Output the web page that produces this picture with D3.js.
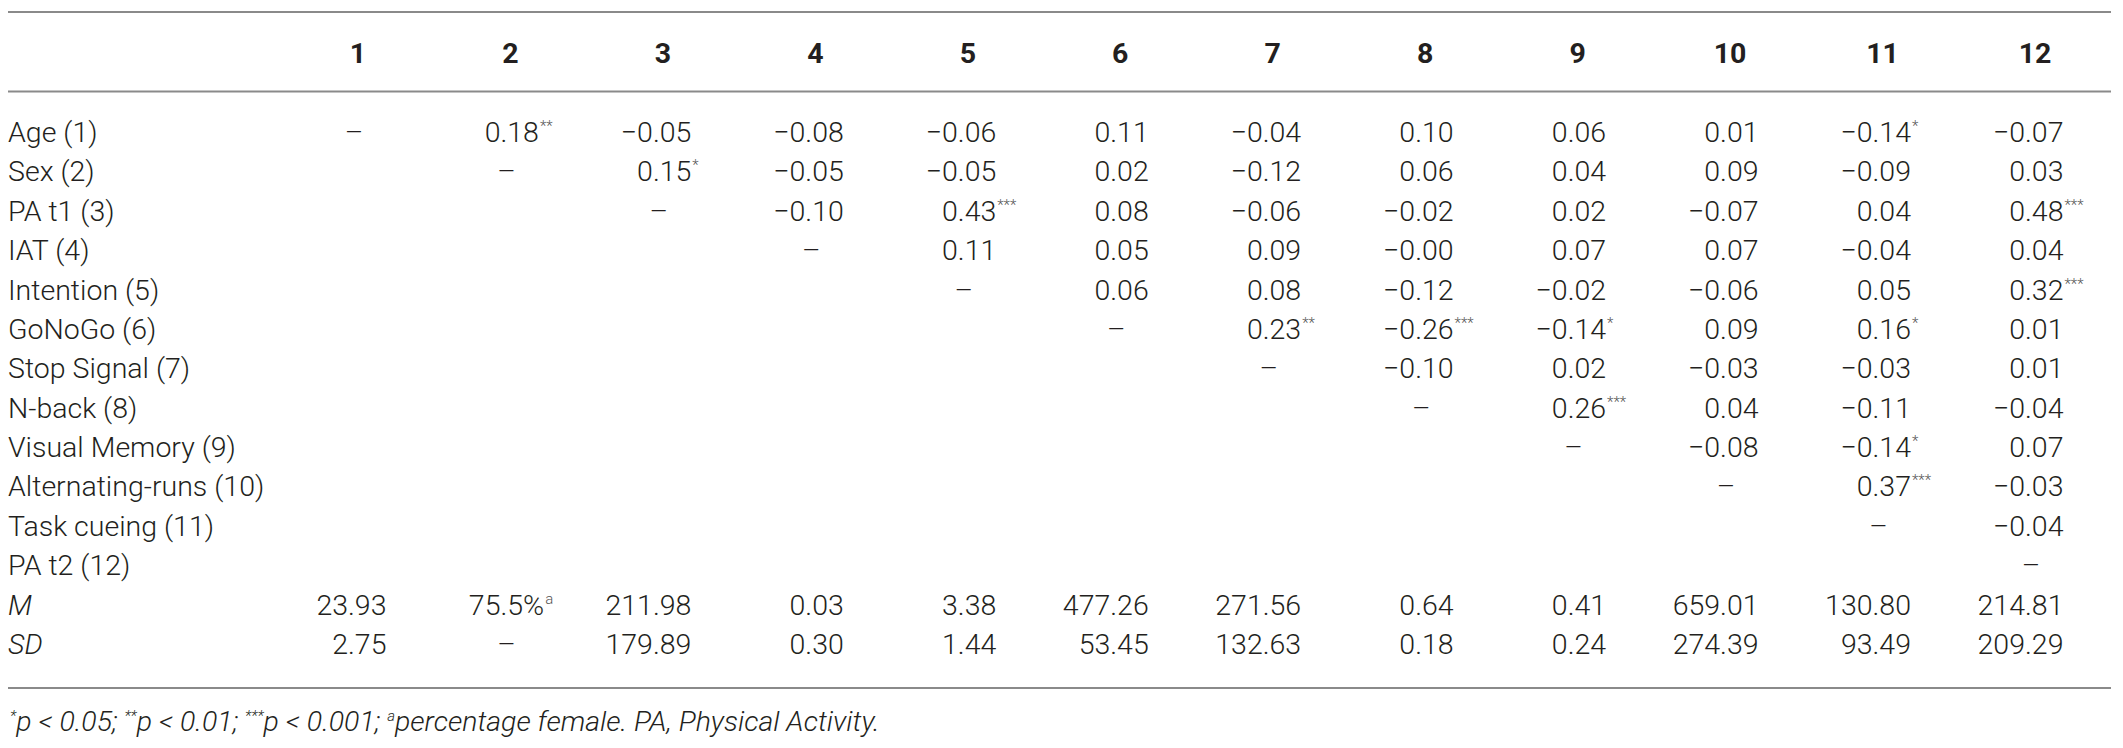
<!DOCTYPE html>
<html>
<head>
<meta charset="utf-8">
<script src="https://cdn.jsdelivr.net/npm/d3@7"></script>
<style>
  html, body { margin: 0; padding: 0; background: #fff; }
  svg { display: block; }
  text { font-family: Roboto, "Liberation Sans", sans-serif; fill: #231f20; }
</style>
</head>
<body>
<svg id="chart" width="2123" height="748"></svg>
<script>
// ---- Data ----
const colLabels = ["1","2","3","4","5","6","7","8","9","10","11","12"];
const rowLabels = ["Age (1)","Sex (2)","PA t1 (3)","IAT (4)","Intention (5)","GoNoGo (6)",
  "Stop Signal (7)","N-back (8)","Visual Memory (9)","Alternating-runs (10)","Task cueing (11)","PA t2 (12)"];
// upper-triangle correlations, row i gives columns i+2 .. 12
const corrAge        = [0.18, -0.05, -0.08, -0.06, 0.11, -0.04, 0.10, 0.06, 0.01, -0.14, -0.07];
const corrSex        = [0.15, -0.05, -0.05, 0.02, -0.12, 0.06, 0.04, 0.09, -0.09, 0.03];
const corrPAt1       = [-0.10, 0.43, 0.08, -0.06, -0.02, 0.02, -0.07, 0.04, 0.48];
const corrIAT        = [0.11, 0.05, 0.09, -0.00, 0.07, 0.07, -0.04, 0.04];
const corrIntention  = [0.06, 0.08, -0.12, -0.02, -0.06, 0.05, 0.32];
const corrGoNoGo     = [0.23, -0.26, -0.14, 0.09, 0.16, 0.01];
const corrStopSignal = [-0.10, 0.02, -0.03, -0.03, 0.01];
const corrNback      = [0.26, 0.04, -0.11, -0.04];
const corrVisualMem  = [-0.08, -0.14, 0.07];
const corrAltRuns    = [0.37, -0.03];
const corrTaskCue    = [-0.04];
const corrPAt2       = [];
// significance stars matching the arrays above
const starsAge        = ["**","","","","","","","","","*",""];
const starsSex        = ["*","","","","","","","","",""];
const starsPAt1       = ["","***","","","","","","","***"];
const starsIAT        = ["","","","","","","",""];
const starsIntention  = ["","","","","","","***"];
const starsGoNoGo     = ["**","***","*","","*",""];
const starsStopSignal = ["","","","",""];
const starsNback      = ["***","","",""];
const starsVisualMem  = ["","*",""];
const starsAltRuns    = ["***",""];
const starsTaskCue    = [""];
const starsPAt2       = [];
const meanValues = ["23.93","75.5%","211.98","0.03","3.38","477.26","271.56","0.64","0.41","659.01","130.80","214.81"];
const meanSup    = ["","a","","","","","","","","","",""];
const sdValues   = ["2.75",null,"179.89","0.30","1.44","53.45","132.63","0.18","0.24","274.39","93.49","209.29"];

const corrRows  = [corrAge,corrSex,corrPAt1,corrIAT,corrIntention,corrGoNoGo,corrStopSignal,corrNback,corrVisualMem,corrAltRuns,corrTaskCue,corrPAt2];
const starRows  = [starsAge,starsSex,starsPAt1,starsIAT,starsIntention,starsGoNoGo,starsStopSignal,starsNback,starsVisualMem,starsAltRuns,starsTaskCue,starsPAt2];

// ---- Layout ----
const svg = d3.select("#chart");
const FS = 28.5;
const x = d3.scaleLinear().domain([1, 12]).range([358, 2035]);     // column centres
const y = d3.scaleLinear().domain([0, 13]).range([142, 654]);      // row baselines
const decOffset = -10; // decimal point position relative to column centre

function fmt(v) {
  const neg = v < 0 || Object.is(v, -0);
  return (neg ? "\u2212" : "") + Math.abs(v).toFixed(2);
}

// rules
const rules = [12, 91.5, 688];
svg.selectAll("line.rule").data(rules).join("line")
  .attr("class", "rule")
  .attr("x1", 8).attr("x2", 2111)
  .attr("y1", d => d).attr("y2", d => d)
  .attr("stroke", "#8a8a8a").attr("stroke-width", 2);

// header
svg.selectAll("text.head").data(colLabels).join("text")
  .attr("class", "head")
  .attr("x", (d, i) => x(i + 1))
  .attr("y", 63)
  .attr("text-anchor", "middle")
  .attr("font-size", FS)
  .attr("font-weight", 700)
  .text(d => d);

// row labels
const allLabels = rowLabels.concat(["M", "SD"]);
svg.selectAll("text.rowlab").data(allLabels).join("text")
  .attr("class", "rowlab")
  .attr("x", 8)
  .attr("y", (d, i) => y(i))
  .attr("font-size", FS)
  .attr("font-weight", 300)
  .attr("font-style", (d, i) => i >= 12 ? "italic" : "normal")
  .text(d => d);

// cells
const cells = [];
corrRows.forEach((row, r) => {
  cells.push({ r, c: r + 1, dash: true });
  row.forEach((v, k) => {
    cells.push({ r, c: r + 2 + k, str: fmt(v), sup: starRows[r][k] });
  });
});
meanValues.forEach((v, k) => cells.push({ r: 12, c: k + 1, str: v, sup: meanSup[k] }));
sdValues.forEach((v, k) => cells.push(v === null ? { r: 13, c: k + 1, dash: true } : { r: 13, c: k + 1, str: v, sup: "" }));

const g = svg.append("g");
cells.forEach(d => {
  const cx = x(d.c) + decOffset;
  const yy = y(d.r);
  if (d.dash) {
    g.append("text").attr("x", x(d.c) - 4).attr("y", yy)
      .attr("text-anchor", "middle").attr("font-size", FS).attr("font-weight", 300)
      .text("\u2013");
    return;
  }
  const dot = d.str.indexOf(".");
  const intPart = d.str.slice(0, dot);
  const fracPart = d.str.slice(dot);
  g.append("text").attr("x", cx).attr("y", yy)
    .attr("text-anchor", "end").attr("font-size", FS).attr("font-weight", 300)
    .text(intPart);
  const t = g.append("text").attr("x", cx).attr("y", yy)
    .attr("text-anchor", "start").attr("font-size", FS).attr("font-weight", 300)
    .text(fracPart);
  if (d.sup) {
    t.append("tspan").attr("dy", -11).attr("dx", 1).attr("font-size", 15)
      .attr("fill", "#555").text(d.sup);
  }
});

// footnote
const foot = svg.append("text").attr("x", 10).attr("y", 731)
  .attr("font-size", 28.5).attr("font-weight", 300).attr("font-style", "italic");
const parts = [
  ["*", true], ["p < 0.05; ", false],
  ["**", true], ["p < 0.01; ", false],
  ["***", true], ["p < 0.001; ", false],
  ["a", true], ["percentage female. PA, Physical Activity.", false]
];
parts.forEach(([s, sup]) => {
  if (sup) foot.append("tspan").attr("font-size", 15).attr("dy", -10).text(s);
  else foot.append("tspan").attr("dy", 10).text(s);
});
</script>
</body>
</html>
